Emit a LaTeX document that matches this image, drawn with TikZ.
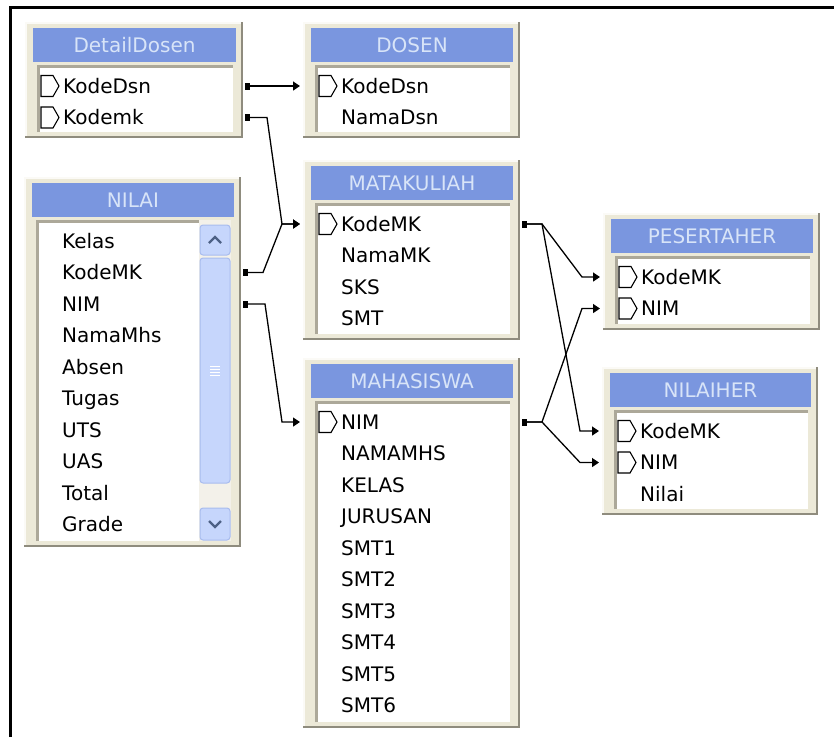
\documentclass[tikz,border=0pt]{standalone}
\usepackage{fontspec}
\setmainfont{DejaVu Sans}
\usetikzlibrary{arrows.meta,calc}
\definecolor{xpbeige}{HTML}{ECE9D8}
\definecolor{xpshade}{HTML}{8F8C7E}
\definecolor{xplight}{HTML}{FBFAF6}
\definecolor{xpinset}{HTML}{ACA899}
\definecolor{xpblue}{HTML}{7A96DF}
\definecolor{xptitle}{HTML}{D8E4F8}
\definecolor{xpbtn}{HTML}{C6D6FC}
\definecolor{xpbtnline}{HTML}{A8BCEE}
\definecolor{xparrow}{HTML}{4D6185}
\definecolor{xptrack}{HTML}{F3F1EA}
\tikzset{keyico/.pic={\draw[line width=1.1pt] (0,-10.5) -- (12,-10.5) -- (18,0) -- (12,10.5) -- (0,10.5) -- cycle;}}
\newcommand{\dbtable}[8]{%
	\node[tblframe, minimum width=#4pt, minimum height=#5pt, anchor=north west] (#1) at (#2,#3) {};
	\draw[tbllight] ([xshift=0.8pt]#1.south west) -- ([shift={(0.8pt,-0.8pt)}]#1.north west) -- ([yshift=-0.8pt]#1.north east);
	\draw[tblshade] ([xshift=-1.2pt]#1.north east) -- ([shift={(-1.2pt,1.2pt)}]#1.south east) -- ([yshift=1.2pt]#1.south west);
	\node[tblhead, minimum width=#4pt-15pt, anchor=north west] (#1-h) at ([shift={(8pt,-6pt)}]#1.north west) {#6};
	\node[tblbody, minimum width=#4pt-22pt, minimum height=#5pt-49pt, anchor=north west] (#1-b) at ([shift={(12pt,-43pt)}]#1.north west) {};
	\draw[tblinset] ([xshift=1.5pt]#1-b.south west) -- ([shift={(1.5pt,-1.5pt)}]#1-b.north west) -- ([yshift=-1.5pt]#1-b.north east);
	\foreach \f [count=\i] in {#8} {
		\node[tblrow] (#1-\i) at ({#2+38},{#3+64+31.5*(\i-1)}) {\f};
		\ifnum\i>#7\relax\else\pic at ({#2+16},{#3+64+31.5*(\i-1)}) {keyico};\fi
	}
}
\begin{document}
\begin{tikzpicture}[x=1pt, y=-1pt,
	tblframe/.style={fill=xpbeige, inner sep=0pt, outer sep=0pt},
	tbllight/.style={draw=xplight, line width=1.6pt},
	tblshade/.style={draw=xpshade, line width=2.4pt},
	tblhead/.style={fill=xpblue, minimum height=34pt, inner sep=0pt, outer sep=0pt, text=xptitle, font=\fontsize{20}{24}\selectfont},
	tblbody/.style={fill=white, inner sep=0pt, outer sep=0pt},
	tblinset/.style={draw=xpinset, line width=3pt},
	tblrow/.style={anchor=west, inner sep=0pt, text height=14.6pt, text depth=0pt, font=\fontsize{20}{24}\selectfont},
	link/.style={line width=1.3pt, {Square[length=5pt,width=7pt]}-{Triangle[length=7pt,width=9pt]}, shorten <=2pt, shorten >=3pt},
	sbbtn/.style={fill=xpbtn, draw=xpbtnline, line width=1pt, rounded corners=3pt},
	sbchev/.style={draw=xparrow, line width=2.4pt},
	sbgrip/.style={draw=white, line width=0.8pt}]
	\useasboundingbox (0,0) rectangle (834,737);
	\fill[white] (0,0) rectangle (834,737);
	\draw[line width=3pt] (10,737) -- (10,7) -- (834,7);

	\dbtable{dd}{25}{22}{218}{116}{DetailDosen}{2}{KodeDsn,Kodemk}
	\dbtable{ds}{303}{22}{217}{116}{DOSEN}{1}{KodeDsn,NamaDsn}
	\dbtable{nl}{24}{177}{217}{370}{NILAI}{0}{Kelas,KodeMK,NIM,NamaMhs,Absen,Tugas,UTS,UAS,Total,Grade}
	\dbtable{mk}{303}{160}{217}{180}{MATAKULIAH}{1}{KodeMK,NamaMK,SKS,SMT}
	\dbtable{mh}{303}{358}{217}{370}{MAHASISWA}{1}{NIM,NAMAMHS,KELAS,JURUSAN,SMT1,SMT2,SMT3,SMT4,SMT5,SMT6}
	\dbtable{ps}{603}{213}{217}{117}{PESERTAHER}{2}{KodeMK,NIM}
	\dbtable{nh}{602}{367}{216}{148}{NILAIHER}{2}{KodeMK,NIM,Nilai}

	\fill[xptrack] (199,220) rectangle (231,541);
	\draw[sbbtn] (200,225) rectangle (230,255);
	\draw[sbchev] (209,243) -- (215,237) -- (221,243);
	\draw[sbbtn] (200,258) rectangle (230,483);
	\foreach \g in {366,369,372,375}
		\draw[sbgrip] (210,\g) -- (220,\g);
	\draw[sbbtn] (200,508) rectangle (230,540);
	\draw[sbchev] (209,521) -- (215,527) -- (221,521);

	\draw[link] (dd.east |- dd-1) -- (ds.west |- ds-1);
	\draw[link] (dd.east |- dd-2) -- ++(24,0) -- ($(mk.west |- mk-1)+(-21,0)$) -- (mk.west |- mk-1);
	\draw[link] (nl.east |- nl-2) -- ++(22,0) -- ($(mk.west |- mk-1)+(-21,0)$) -- (mk.west |- mk-1);
	\draw[link] (nl.east |- nl-3) -- ++(24,0) -- ($(mh.west |- mh-1)+(-21,0)$) -- (mh.west |- mh-1);
	\draw[link] (mk.east |- mk-1) -- ++(22,0) -- ($(ps.west |- ps-1)+(-21,0)$) -- (ps.west |- ps-1);
	\draw[link] (mk.east |- mk-1) -- ++(22,0) -- ($(nh.west |- nh-1)+(-22,0)$) -- (nh.west |- nh-1);
	\draw[link] (mh.east |- mh-1) -- ++(22,0) -- ($(ps.west |- ps-2)+(-21,0)$) -- (ps.west |- ps-2);
	\draw[link] (mh.east |- mh-1) -- ++(22,0) -- ($(nh.west |- nh-2)+(-22,0)$) -- (nh.west |- nh-2);
\end{tikzpicture}
\end{document}
